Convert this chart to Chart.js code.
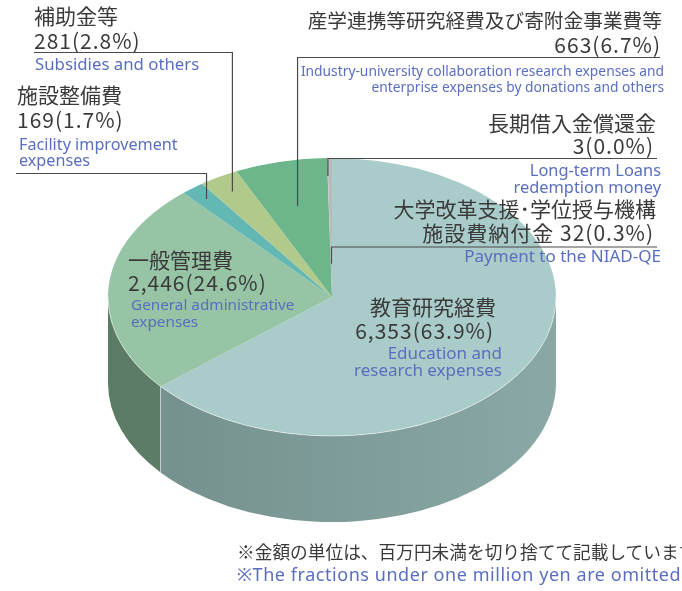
<!DOCTYPE html>
<html>
<head>
<meta charset="utf-8">
<script src="https://cdn.jsdelivr.net/npm/chart.js@4.4.0/dist/chart.umd.min.js"></script>
<style>
  html, body { margin: 0; padding: 0; background: #fff; overflow: hidden; }
  #wrap { position: relative; width: 682px; height: 591px; overflow: hidden; }
  #pie { position: absolute; left: 0; top: 0; }
  .lbl { position: absolute; white-space: nowrap; font-family: "Noto Sans CJK JP", "Noto Sans", sans-serif; color: #3a3a3a; }
  .en { font-family: "Noto Sans", "Noto Sans CJK JP", sans-serif; color: #5a6ec0; }
  .num { letter-spacing: 1px; }
  .note { letter-spacing: 0.55px; }
</style>
</head>
<body>
<div id="wrap"><canvas id="pie" width="682" height="591"></canvas></div>
<script>
// data (millions of yen), clockwise from 12 o'clock
const categories = ['教育研究経費', '一般管理費', '施設整備費', '補助金等', '産学連携等研究経費及び寄附金事業費等', '長期借入金償還金', '大学改革支援・学位授与機構施設費納付金'];
const englishNames = ['Education and research expenses', 'General administrative expenses', 'Facility improvement expenses', 'Subsidies and others', 'Industry-university collaboration research expenses and enterprise expenses by donations and others', 'Long-term Loans redemption money', 'Payment to the NIAD-QE'];
const amounts = [6353, 2446, 169, 281, 663, 3, 32];
const shares = [63.9, 24.6, 1.7, 2.8, 6.7, 0.0, 0.3];

const topColors = ['#a9cbc9', '#96c4a4', '#64b8b4', '#b2c98c', '#6db68b', '#bdbec2', '#b8babe'];
const sideDark = ['#718e8b', '#5b7b65', '#4a8a87', '#86986a', '#538a69', '#8f9093', '#8f9093'];
const sideLight = ['#8aa8a5', '#668871', '#5aa09c', '#9cb07c', '#619e79', '#a0a1a4', '#a0a1a4'];

const TILT = 139 / 224;
const DEPTH = 86;

function valueText(i) {
  return amounts[i].toLocaleString('en-US') + '(' + shares[i].toFixed(1) + '%)';
}

// leader lines: slice index, radial fraction for the end point, y of the label rule, rule end x
const leaders = [
  { slice: 3, f: 0.88, lineY: 52.5, edge: 34 },
  { slice: 2, f: 0.9, lineY: 173.5, edge: 16 },
  { slice: 4, f: 0.67, lineY: 57.5, edge: 660 },
  { slice: 5, f: 0.87, lineY: 158.5, edge: 657 },
  { slice: 6, f: 0.24, lineY: 247, edge: 657 }
];

function anchor(arcs, i, f) {
  const a = arcs[i];
  const m = (a.startAngle + a.endAngle) / 2;
  return {
    x: a.x + a.outerRadius * f * Math.cos(m),
    y: a.y + a.outerRadius * TILT * f * Math.sin(m)
  };
}

const pie3d = {
  id: 'pie3d',
  beforeDatasetsDraw(chart) {
    const ctx = chart.ctx;
    const arcs = chart.getDatasetMeta(0).data;
    const cx = arcs[0].x, cy = arcs[0].y, R = arcs[0].outerRadius, ry = R * TILT;

    // side wall, front half only
    arcs.forEach((arc, i) => {
      const a = Math.max(arc.startAngle, 0);
      const b = Math.min(arc.endAngle, Math.PI);
      if (b <= a) return;
      const g = ctx.createLinearGradient(cx - R, 0, cx + R, 0);
      g.addColorStop(0, sideDark[i]);
      g.addColorStop(1, sideLight[i]);
      ctx.beginPath();
      ctx.ellipse(cx, cy, R, ry, 0, a, b);
      ctx.ellipse(cx, cy + DEPTH, R, ry, 0, b, a, true);
      ctx.closePath();
      ctx.fillStyle = g;
      ctx.fill();
      // light seam at slice edges on the wall
      [arc.startAngle, arc.endAngle].forEach(t => {
        if (t > 0.02 && t < Math.PI - 0.02) {
          const x = cx + R * Math.cos(t), y = cy + ry * Math.sin(t);
          ctx.beginPath();
          ctx.moveTo(x, y);
          ctx.lineTo(x, y + DEPTH);
          ctx.strokeStyle = 'rgba(255,255,255,0.45)';
          ctx.lineWidth = 1;
          ctx.stroke();
        }
      });
    });

    ctx.save();
    ctx.translate(cx, cy);
    ctx.scale(1, TILT);
    ctx.translate(-cx, -cy);
  },
  afterDatasetsDraw(chart) {
    const ctx = chart.ctx;
    ctx.restore();
    const arcs = chart.getDatasetMeta(0).data;
    const cx = arcs[0].x, cy = arcs[0].y, R = arcs[0].outerRadius, ry = R * TILT;

    // light rim between top face and wall
    ctx.beginPath();
    ctx.ellipse(cx, cy, R, ry, 0, 0, Math.PI);
    ctx.strokeStyle = 'rgba(255,255,255,0.5)';
    ctx.lineWidth = 1;
    ctx.stroke();

    ctx.strokeStyle = '#4a4a4a';
    ctx.lineWidth = 1.2;
    leaders.forEach(l => {
      const p = anchor(arcs, l.slice, l.f);
      ctx.beginPath();
      ctx.moveTo(l.edge, l.lineY);
      ctx.lineTo(p.x, l.lineY);
      ctx.lineTo(p.x, p.y);
      ctx.stroke();
    });
  }
};

new Chart(document.getElementById('pie'), {
  type: 'pie',
  data: {
    labels: categories,
    datasets: [{
      data: amounts,
      backgroundColor: topColors,
      borderWidth: 0
    }]
  },
  options: {
    responsive: false,
    animation: false,
    layout: { padding: { left: 108, right: 126, top: 73, bottom: 70 } },
    plugins: { legend: { display: false }, tooltip: { enabled: false } }
  },
  plugins: [pie3d]
});

// text labels
const wrap = document.getElementById('wrap');
function addText(text, x, cy, size, cls, align) {
  const d = document.createElement('div');
  d.className = 'lbl' + (cls ? ' ' + cls : '');
  const lh = Math.round(size * 1.3);
  d.style.fontSize = size + 'px';
  d.style.lineHeight = lh + 'px';
  d.style.top = (cy - lh / 2) + 'px';
  if (align === 'right') d.style.right = (682 - x) + 'px';
  else d.style.left = x + 'px';
  d.textContent = text;
  wrap.appendChild(d);
}

// 補助金等
addText(categories[3], 34, 15.5, 21);
addText(valueText(3), 34, 40, 21, 'num');
addText(englishNames[3], 35, 64, 16.8, 'en');
// 施設整備費
addText(categories[2], 17, 94.5, 21);
addText(valueText(2), 17, 119.5, 21, 'num');
addText('Facility improvement', 19, 144.5, 16.2, 'en');
addText('expenses', 19, 160.5, 16.2, 'en');
// 産学連携等
addText(categories[4], 662, 20, 19.7, '', 'right');
addText(valueText(4), 661, 44.5, 21, 'num', 'right');
addText('Industry-university collaboration research expenses and', 664, 71, 13.8, 'en', 'right');
addText('enterprise expenses by donations and others', 664, 87, 13.8, 'en', 'right');
// 長期借入金償還金
addText(categories[5], 656, 122.5, 21, '', 'right');
addText(valueText(5), 654, 145, 21, 'num', 'right');
addText('Long-term Loans', 661, 169.5, 16.4, 'en', 'right');
addText('redemption money', 661, 186, 16.4, 'en', 'right');
// 大学改革支援・学位授与機構
addText('大学改革支援･学位授与機構', 656, 208.5, 21, '', 'right');
addText('施設費納付金 ' + valueText(6), 654, 232.5, 21, 'num', 'right');
addText(englishNames[6], 661, 256, 17, 'en', 'right');
// 一般管理費
addText(categories[1], 128, 259.5, 21);
addText(valueText(1), 128, 282.5, 21, 'num');
addText('General administrative', 131, 304, 15.3, 'en');
addText('expenses', 131, 321, 15.3, 'en');
// 教育研究経費
addText(categories[0], 496, 306, 21, '', 'right');
addText(valueText(0), 494, 330, 21, 'num', 'right');
addText('Education and', 502, 353, 17, 'en', 'right');
addText('research expenses', 502, 370, 17, 'en', 'right');
// notes
addText('※金額の単位は、百万円未満を切り捨てて記載しています。', 237, 551, 17.7);
addText('※The fractions under one million yen are omitted', 237, 574, 18, 'en note');
</script>
</body>
</html>
